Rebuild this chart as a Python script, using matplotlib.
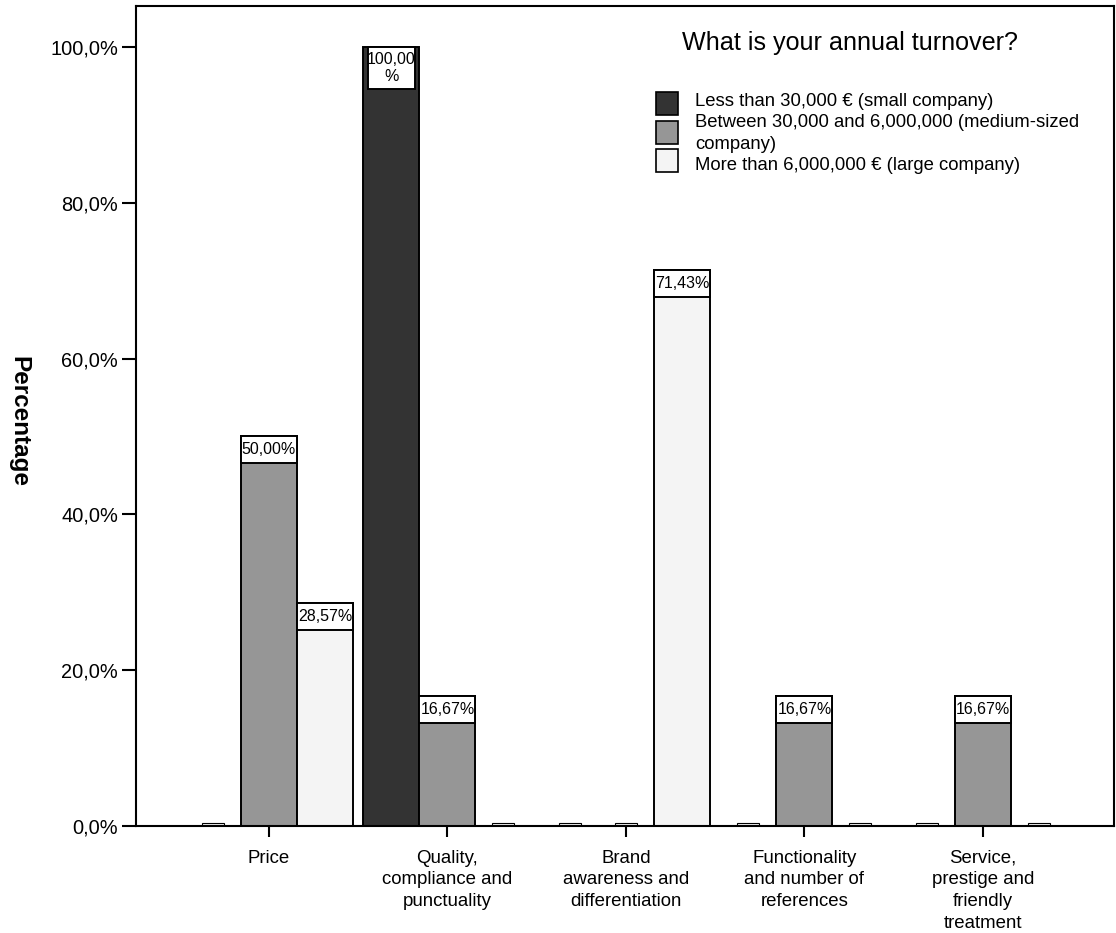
import matplotlib
matplotlib.use("Agg")
import matplotlib.pyplot as plt
from matplotlib.patches import Rectangle

plt.rcParams['font.family'] = ['Liberation Sans', 'DejaVu Sans']

# ---- data -------------------------------------------------------------
categories = [
    "Price",
    "Quality,\ncompliance and\npunctuality",
    "Brand\nawareness and\ndifferentiation",
    "Functionality\nand number of\nreferences",
    "Service,\nprestige and\nfriendly\ntreatment",
]
series_names = [
    "Less than 30,000 \u20ac (small company)",
    "Between 30,000 and 6,000,000 (medium-sized\ncompany)",
    "More than 6,000,000 \u20ac (large company)",
]
small_company = [0.0, 100.0, 0.0, 0.0, 0.0]
medium_company = [50.0, 16.67, 0.0, 16.67, 16.67]
large_company = [28.57, 0.0, 71.43, 0.0, 0.0]
y_ticks = [0, 20, 40, 60, 80, 100]
y_tick_labels = ["0,0%", "20,0%", "40,0%", "60,0%", "80,0%", "100,0%"]
legend_title = "What is your annual turnover?"
y_label = "Percentage"

series_values = [small_company, medium_company, large_company]
colors = ["#333333", "#969696", "#f4f4f4"]

# ---- figure geometry (pixels) ----------------------------------------
W, H = 1116, 933
fig = plt.figure(figsize=(W / 100, H / 100), dpi=100)
ax_left, ax_right, ax_top, ax_bottom = 136, 1114, 6, 826
ax = fig.add_axes([ax_left / W, (H - ax_bottom) / H,
                   (ax_right - ax_left) / W, (ax_bottom - ax_top) / H])

ax.set_xlim(-0.745, 4.734)
ax.set_ylim(0, 105.26)

px_x = (4.734 + 0.745) / (ax_right - ax_left)   # data units per pixel (x)
px_y = 105.26 / (ax_bottom - ax_top)             # data units per pixel (y)

bar_w = 56 * px_x
stub_w = 22 * px_x
stub_h = 3.5 * px_y
edge_lw = 1.4


def fmt(v):
    s = f"{v:.2f}".replace(".", ",") + "%"
    if len(s) > 6:
        s = s[:-1] + "\n%"
    return s


for si, (vals, col) in enumerate(zip(series_values, colors)):
    for ci, v in enumerate(vals):
        x = ci + (si - 1) * bar_w
        if v > 0:
            ax.bar(x, v, width=bar_w, color=col, edgecolor="black",
                   linewidth=edge_lw, zorder=2)
            label = fmt(v)
            if "\n" in label:
                bh = 42 * px_y
                inset = 4.5 * px_x
            else:
                bh = 27 * px_y
                inset = 0
            ax.add_patch(Rectangle((x - bar_w / 2 + inset, v - bh), bar_w - 2 * inset, bh,
                                   facecolor="white", edgecolor="black",
                                   linewidth=edge_lw, zorder=3))
            ax.text(x, v - bh / 2, label, ha="center", va="center",
                    fontsize=11.5, linespacing=1.15, zorder=4)
        else:
            # zero-valued cells are drawn as a flat stub on the baseline
            ax.bar(x, stub_h, width=stub_w, color="#f4f4f4", edgecolor="black",
                   linewidth=0.8, zorder=2)

# ---- axes styling ----------------------------------------------------
for side in ["left", "bottom", "top", "right"]:
    ax.spines[side].set_linewidth(1.5)
    ax.spines[side].set_color("black")

ax.set_yticks(y_ticks)
ax.set_yticklabels(y_tick_labels, fontsize=14.4)
ax.tick_params(axis="y", length=10, width=1.5, pad=3, direction="out")
ax.set_xticks(range(len(categories)))
ax.set_xticklabels(categories, fontsize=13.4, linespacing=1.36)
ax.tick_params(axis="x", length=8, width=1.5, pad=9, direction="out")

ax.set_ylabel(y_label, rotation=270, fontsize=17.5, fontweight="bold",
              va="center", ha="center")
ax.yaxis.set_label_coords((18.5 - ax_left) / (ax_right - ax_left),
                          (ax_bottom - 421) / (ax_bottom - ax_top))

# ---- legend -----------------------------------------------------------
def fx(x):
    return x / W


def fy(y):
    return 1 - y / H


fig.text(fx(682), fy(50), legend_title, fontsize=18.1, ha="left", va="baseline")

patch_tops = [92, 121, 149]
baseline = 106
for name, col, top in zip(series_names, colors, patch_tops):
    fig.add_artist(Rectangle((fx(656), fy(top + 23)), 22 / W, 23 / H,
                             transform=fig.transFigure, facecolor=col,
                             edgecolor="black", linewidth=1.2))
    for line in name.split("\n"):
        fig.text(fx(695), fy(baseline), line, fontsize=13.3,
                 ha="left", va="baseline")
        baseline += 21.3

fig.savefig("out.png", dpi=100, facecolor="white")
